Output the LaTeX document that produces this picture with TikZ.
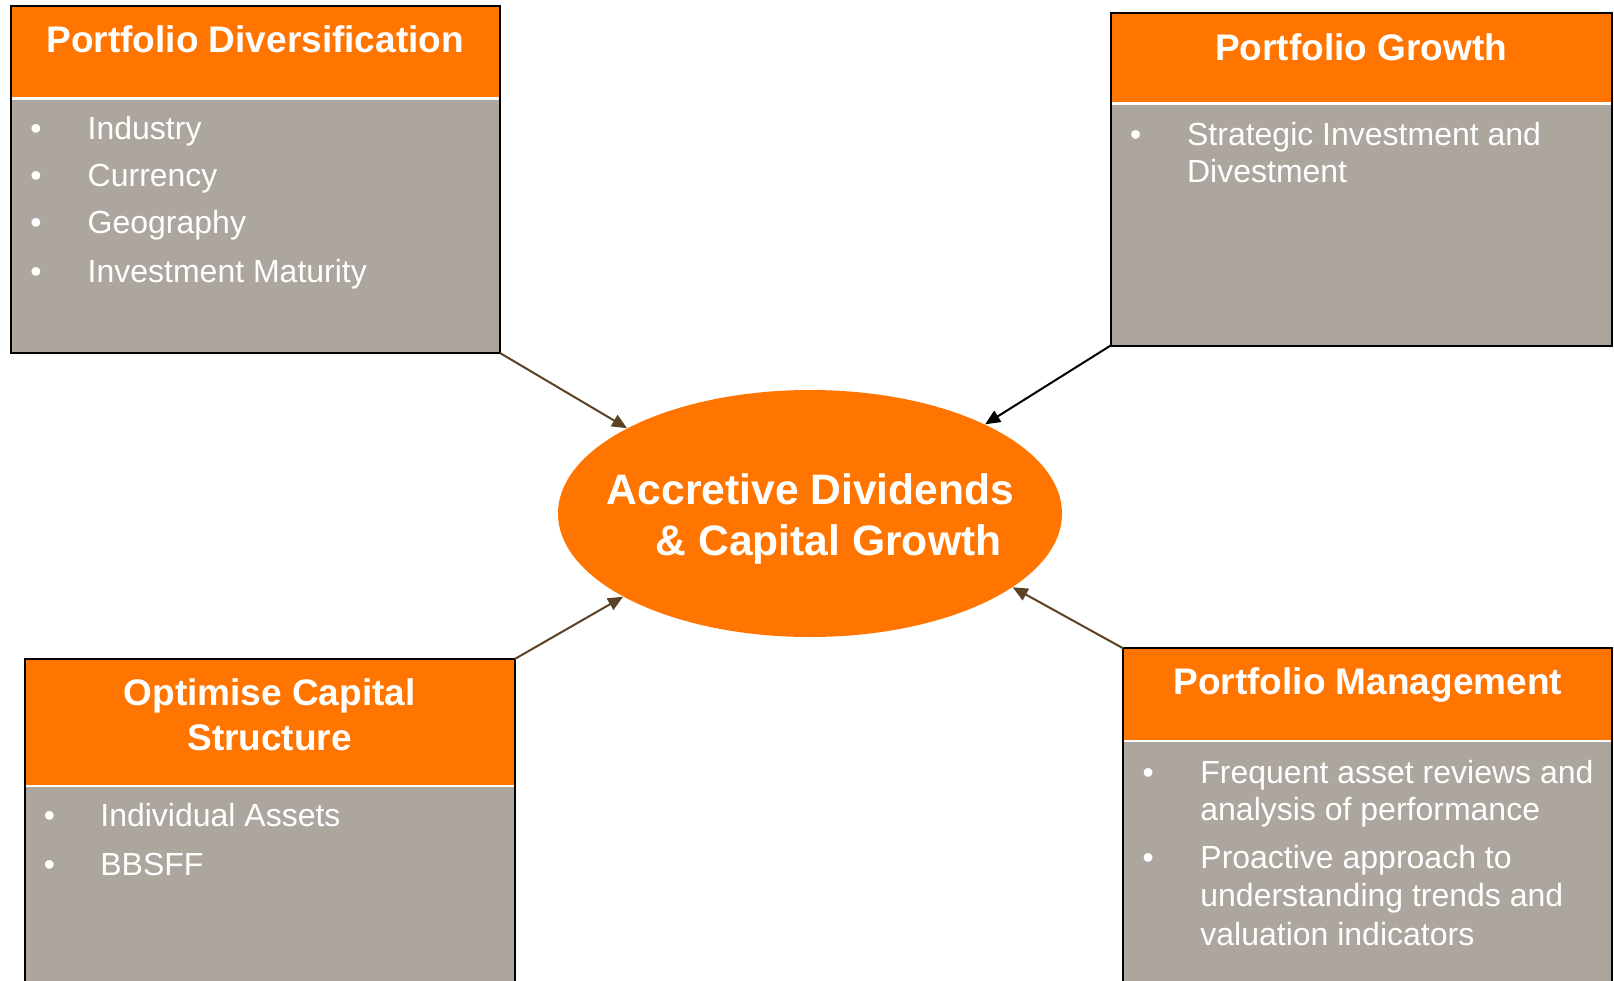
\documentclass[tikz,border=0pt]{standalone}
\usepackage{fontspec}
\setmainfont{Liberation Sans}
\usetikzlibrary{shapes.geometric,arrows.meta}
\definecolor{orng}{RGB}{255,117,0}
\definecolor{panelgray}{RGB}{173,166,159}
\definecolor{arrbrown}{RGB}{90,66,36}
\begin{document}
\begin{tikzpicture}[x=0.5pt,y=-0.5pt,
  panel/.style={rectangle, fill=panelgray, inner sep=0pt, outer sep=0pt},
  hdrfill/.style={fill=orng},
  divider/.style={draw=white, line width=1.2pt},
  border/.style={draw=black, line width=1pt},
  hdrtext/.style={anchor=base, text=white, font=\fontsize{18.5}{22}\selectfont\bfseries, inner sep=0pt},
  itemtext/.style={anchor=base west, text=white, font=\fontsize{16}{19}\selectfont, inner sep=0pt},
  bul/.style={anchor=base, text=white, font=\fontsize{16}{19}\selectfont, inner sep=0pt},
  ctrtext/.style={anchor=base, text=white, font=\fontsize{21.3}{25}\selectfont\bfseries, inner sep=0pt},
  conn/.style={line width=1pt, -{Triangle[length=7.5pt,width=6.5pt]}},
]
\useasboundingbox (0,0) rectangle (1614,981);
\fill[white] (0,0) rectangle (1614,981);

% ---------- Top left panel ----------
\node[panel, minimum width=244.75pt, minimum height=173.5pt] (tl) at (255.25,179.5) {};
\fill[hdrfill] (10.5,6) rectangle (500,98.3);
\draw[divider] (11,98.3) -- (499.5,98.3);
\draw[border] (tl.north west) rectangle (tl.south east);
\node[hdrtext] (tlh) at (255.25,52.7) {Portfolio Diversification};
\node[bul] (tlb1) at (36,139.3) {•};
\node[itemtext] (tli1) at (87.3,139.3) {Industry};
\node[bul] (tlb2) at (36,186.7) {•};
\node[itemtext] (tli2) at (87.3,186.7) {Currency};
\node[bul] (tlb3) at (36,233.3) {•};
\node[itemtext] (tli3) at (87.3,233.3) {Geography};
\node[bul] (tlb4) at (36,282.7) {•};
\node[itemtext] (tli4) at (87.3,282.7) {Investment Maturity};

% ---------- Top right panel ----------
\node[panel, minimum width=250.4pt, minimum height=166.25pt] (tr) at (1361.1,179.25) {};
\fill[hdrfill] (1110.7,13) rectangle (1611.5,103.3);
\draw[divider] (1111.2,103.3) -- (1611,103.3);
\draw[border] (tr.north west) rectangle (tr.south east);
\node[hdrtext] (trh) at (1361.1,60) {Portfolio Growth};
\node[bul] (trb1) at (1135.7,145) {•};
\node[itemtext] (tri1a) at (1186.7,145) {Strategic Investment and};
\node[itemtext] (tri1b) at (1186.7,182.7) {Divestment};

% ---------- Bottom left panel ----------
\node[panel, minimum width=245.15pt, minimum height=165.5pt] (bl) at (269.65,824.5) {};
\fill[hdrfill] (24.5,659) rectangle (514.8,785.7);
\draw[divider] (25,785.7) -- (514.3,785.7);
\draw[border] (bl.north west) rectangle (bl.south east);
\node[hdrtext] (blh1) at (269.65,705) {Optimise Capital};
\node[hdrtext] (blh2) at (269.65,750) {Structure};
\node[bul] (blb1) at (49.4,826.7) {•};
\node[itemtext] (bli1) at (100,826.7) {Individual Assets};
\node[bul] (blb2) at (49.4,875) {•};
\node[itemtext] (bli2) at (100,875) {BBSFF};

% ---------- Bottom right panel ----------
\node[panel, minimum width=244.5pt, minimum height=170.8pt] (br) at (1367.8,819.2) {};
\fill[hdrfill] (1123.3,648.4) rectangle (1612.3,741);
\draw[divider] (1123.8,741) -- (1611.8,741);
\draw[border] (br.north west) rectangle (br.south east);
\node[hdrtext] (brh) at (1367.8,694) {Portfolio Management};
\node[bul] (brb1) at (1148.3,783.3) {•};
\node[itemtext] (bri1a) at (1200,783.3) {Frequent asset reviews and};
\node[itemtext] (bri1b) at (1200,820.7) {analysis of performance};
\node[bul] (brb2) at (1148.3,868.3) {•};
\node[itemtext] (bri2a) at (1200,868.3) {Proactive approach to};
\node[itemtext] (bri2b) at (1200,906.7) {understanding trends and};
\node[itemtext] (bri2c) at (1200,945) {valuation indicators};

% ---------- Centre ellipse ----------
\node[ellipse, fill=orng, minimum width=252pt, minimum height=123.5pt, inner sep=0pt] (ell) at (810,513.5) {};
\node[ctrtext] (ct1) at (810.6,504) {Accretive Dividends};
\node[ctrtext] (ct2) at (828.6,555.5) {\& Capital Growth};

% ---------- Connectors ----------
\draw[conn, arrbrown] (tl.south east) -- (ell.155);
\draw[conn, black] (tr.south west) -- (ell.27);
\draw[conn, arrbrown] (bl.north east) -- (ell.204);
\draw[conn, arrbrown] (br.north west) -- (ell.340);
\end{tikzpicture}
\end{document}
